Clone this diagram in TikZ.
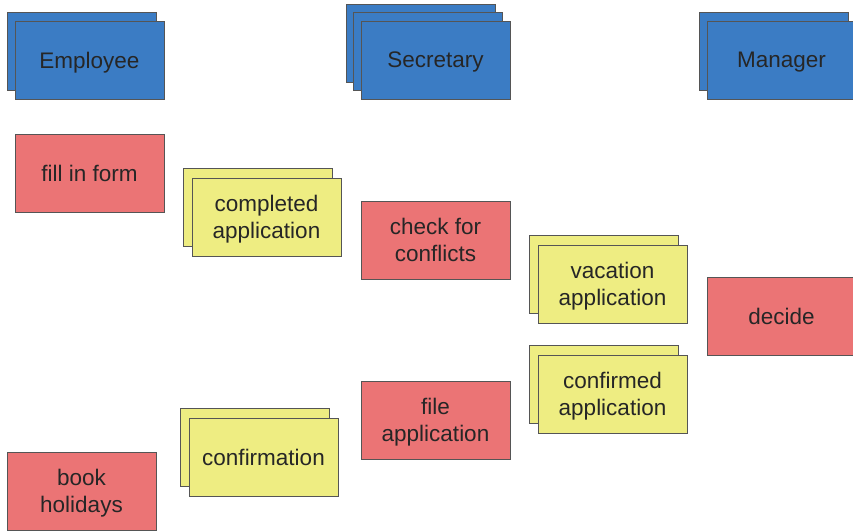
\documentclass[tikz,border=0pt]{standalone}
\usepackage{fontspec}
\setmainfont{Liberation Sans}
\usetikzlibrary{positioning}
\usetikzlibrary{shadows}

\definecolor{roleblue}{RGB}{59,124,196}
\definecolor{taskred}{RGB}{235,116,117}
\definecolor{docyellow}{RGB}{238,237,130}
\definecolor{boxline}{RGB}{85,85,85}

\begin{document}
\begin{tikzpicture}[x=1pt,y=-1pt,node distance=346pt,
		font=\fontsize{22.5}{27}\selectfont]
		\tikzstyle{card}=[draw=boxline,line width=0.9pt,minimum width=149pt,
		minimum height=78pt,inner sep=0pt,align=center,text depth=0pt,text=black!85]
		\tikzstyle{role}=[card,fill=roleblue]
		\tikzstyle{task}=[card,fill=taskred]
		\tikzstyle{doc}=[card,fill=docyellow,copy shadow={fill=docyellow,
		draw=boxline,shadow xshift=-8.5pt,shadow yshift=9.5pt}]
		
		\useasboundingbox (0,0) rectangle (853,531);
		
		% roles
		\node[role,copy shadow={fill=roleblue,draw=boxline,
		shadow xshift=-8pt,shadow yshift=9pt}] (Employee) at (89.5,60) {Employee};
		\node[role,double copy shadow={fill=roleblue,draw=boxline,
		shadow xshift=-7.5pt,shadow yshift=8.5pt}] (Secretary) [right of=Employee] {Secretary};
		\node[role,copy shadow={fill=roleblue,draw=boxline,
		shadow xshift=-8pt,shadow yshift=9pt}] (Manager) [right of=Secretary] {Manager};
		
		% activities
		\node[task] (FillForm)    at (89.5,173)  {fill in form};
		\node[task] (CheckConf)   at (435.5,240) {check for\\conflicts};
		\node[task] (Decide)      at (781.5,316.5) {decide};
		\node[task] (FileApp)     at (435.5,420) {file\\application};
		\node[task] (BookHol)     at (81.5,491)  {book\\holidays};
		
		% documents
		\node[doc]  (CompApp)     at (266.5,217) {completed\\application};
		\node[doc]  (VacApp)      at (612.5,284) {vacation\\application};
		\node[doc]  (ConfApp)     at (612.5,394) {confirmed\\application};
		\node[doc]  (Confirm)     at (263.5,457) {confirmation};
		\end{tikzpicture}
\end{document}
